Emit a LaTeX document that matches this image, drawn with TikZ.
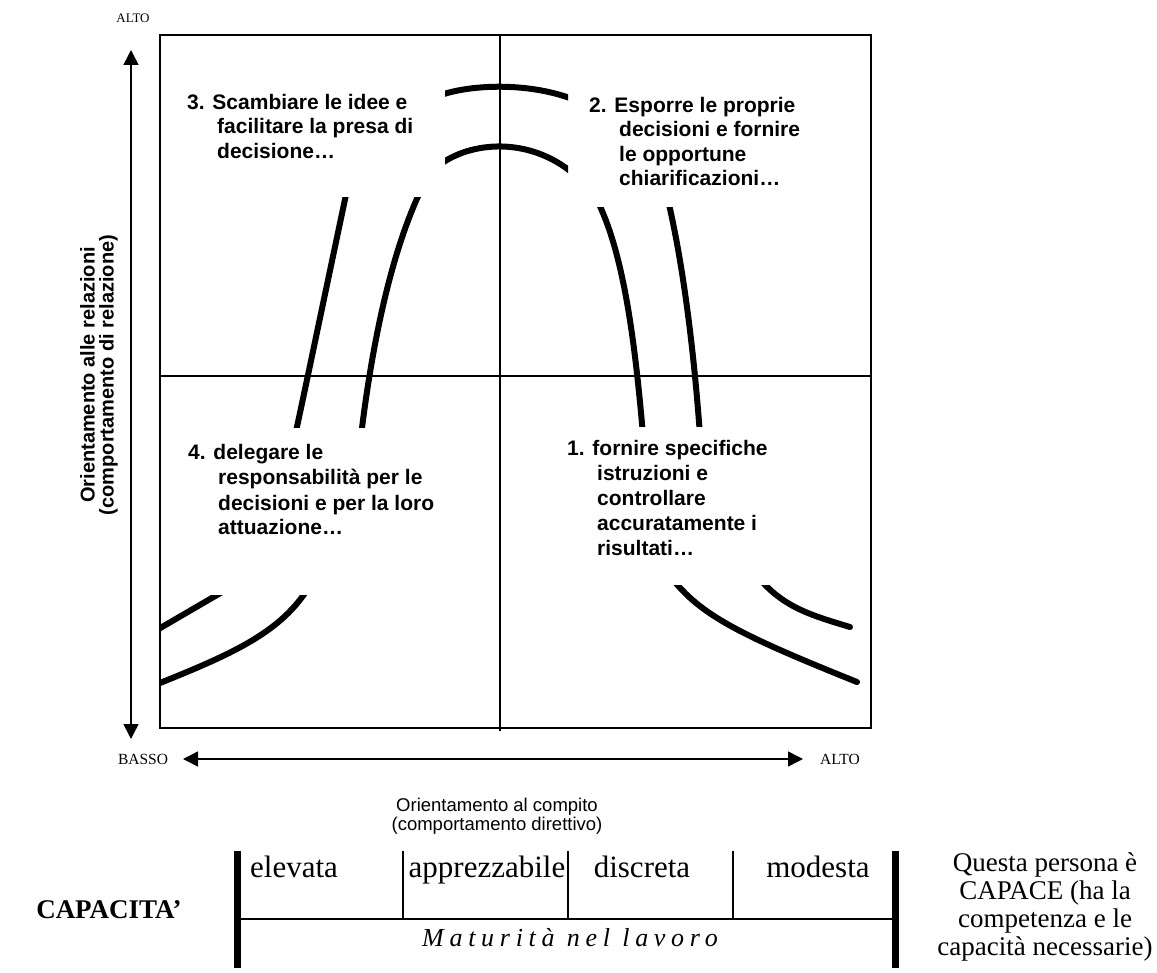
\documentclass[tikz,border=0pt]{standalone}
\usepackage{fontspec}
\setmainfont{Liberation Serif}
\newfontfamily\arialf{Liberation Sans}
\newfontfamily\matf{Liberation Serif}[LetterSpace=22]
\usetikzlibrary{arrows.meta}
\begin{document}
\begin{tikzpicture}[x=1pt,y=-1pt,
  frame/.style={line width=2pt},
  cross/.style={line width=1.3pt},
  arr/.style={line width=1.5pt, {Triangle[width=15pt,length=15pt]}-{Triangle[width=15pt,length=15pt]}},
  curve/.style={line width=6pt},
  qt/.style={font=\arialf\bfseries\fontsize{21}{24.5}\selectfont, inner sep=0pt, anchor=base west},
  lbl/.style={font=\fontsize{15.5}{18}\selectfont, inner sep=0pt},
  tw/.style={font=\fontsize{31}{36}\selectfont, inner sep=0pt, anchor=base},
  bar/.style={line width=7pt},
  thin/.style={line width=1.3pt}
]
\useasboundingbox (0,0) rectangle (1157,973);

% frame and cross
\draw[frame] (160,35) rectangle (871,728);
\draw[cross] (500,35) -- (500,731);
\draw[cross] (160,376) -- (871,376);

% axes
\coordinate (vtop) at (131,50);
\coordinate (vbot) at (131,739);
\draw[arr] (vbot) -- (vtop);
\node[font=\fontsize{13}{15}\selectfont, inner sep=0pt] (altotop) at (133,18) {ALTO};
\node[font=\arialf\bfseries\fontsize{20}{19}\selectfont, align=center, rotate=90, inner sep=0pt] (ylab) at (99,375)
  {Orientamento alle relazioni\\(comportamento di relazione)};

\coordinate (hl) at (183,759);
\coordinate (hr) at (803,759);
\draw[arr] (hl) -- (hr);
\node[lbl] (basso) at (143,759) {BASSO};
\node[lbl] (alto) at (840,759) {ALTO};
\node[font=\arialf\fontsize{18.5}{19}\selectfont, align=center, inner sep=0pt, anchor=base] (xlab) at (497,830)
  {Orientamento al compito\\(comportamento direttivo)};

% top arcs
\begin{scope}
  \clip (445,0) rectangle (568,400);
  \draw[curve] (438,96) .. controls (470,84) and (530,82) .. (575,100);
  \draw[curve] (438,166) .. controls (470,141) and (530,136) .. (575,175);
\end{scope}
% left upper lines
\begin{scope}
  \clip (160,198) rectangle (500,428);
  \draw[curve] (347,190) .. controls (330,270) and (305,390) .. (295,436);
  \draw[curve] (421,190) .. controls (397,240) and (375,320) .. (361,436);
\end{scope}
% right upper lines
\begin{scope}
  \clip (500,208) rectangle (871,427);
  \draw[curve] (597,200) .. controls (622,250) and (634,330) .. (643,435);
  \draw[curve] (668,200) .. controls (682,260) and (693,340) .. (700,435);
\end{scope}
% bottom left
\begin{scope}
  \clip (160,595) rectangle (500,728);
  \draw[curve] (229,588) -- (150,634);
  \draw[curve] (310,585) .. controls (282,633) and (230,655) .. (150,687);
\end{scope}
% bottom right
\begin{scope}
  \clip (500,585) rectangle (871,728);
  \draw[curve, line cap=round] (671,577) .. controls (700,615) and (740,635) .. (857,682);
  \draw[curve, line cap=round] (758,577) .. controls (783,607) and (810,615) .. (850,627);
\end{scope}

% quadrant texts
\node[qt] (q3a) at (187,109.5) {3. Scambiare le idee e};
\node[qt] (q3b) at (217,134) {facilitare la presa di};
\node[qt] (q3c) at (217,158.5) {decisione…};

\node[qt] (q2a) at (589,112.5) {2. Esporre le proprie};
\node[qt] (q2b) at (619,137) {decisioni e fornire};
\node[qt] (q2c) at (619,161.5) {le opportune};
\node[qt] (q2d) at (619,186) {chiarificazioni…};

\node[qt] (q4a) at (188,460) {4. delegare le};
\node[qt] (q4b) at (218,485) {responsabilità per le};
\node[qt] (q4c) at (218,510) {decisioni e per la loro};
\node[qt] (q4d) at (218,534) {attuazione…};

\node[qt] (q1a) at (567,456) {1. fornire specifiche};
\node[qt] (q1b) at (597,480.5) {istruzioni e};
\node[qt] (q1c) at (597,505) {controllare};
\node[qt] (q1d) at (597,530) {accuratamente i};
\node[qt] (q1e) at (597,555) {risultati…};

% table
\draw[bar] (237,851) -- (237,968);
\draw[bar] (895,851) -- (895,968);
\draw[frame] (237,919) -- (895,919);
\draw[thin] (403,851) -- (403,919);
\draw[thin] (568,851) -- (568,919);
\draw[thin] (733,851) -- (733,919);

\node[tw] (c1) at (294,877) {elevata};
\node[tw] (c2) at (487,877) {apprezzabile};
\node[tw] (c3) at (642,877) {discreta};
\node[tw] (c4) at (818,877) {modesta};

\node[font=\matf\itshape\fontsize{26}{30}\selectfont, inner sep=0pt, anchor=base] (mat) at (570,946) {Maturità nel lavoro};
\node[font=\bfseries\fontsize{27}{30}\selectfont, inner sep=0pt, anchor=base] (cap) at (109,918) {CAPACITA’};
\node[font=\fontsize{27}{28}\selectfont, align=center, inner sep=0pt] (right) at (1045,907)
  {Questa persona è\\CAPACE (ha la\\competenza e le\\capacità necessarie)};
\end{tikzpicture}
\end{document}
